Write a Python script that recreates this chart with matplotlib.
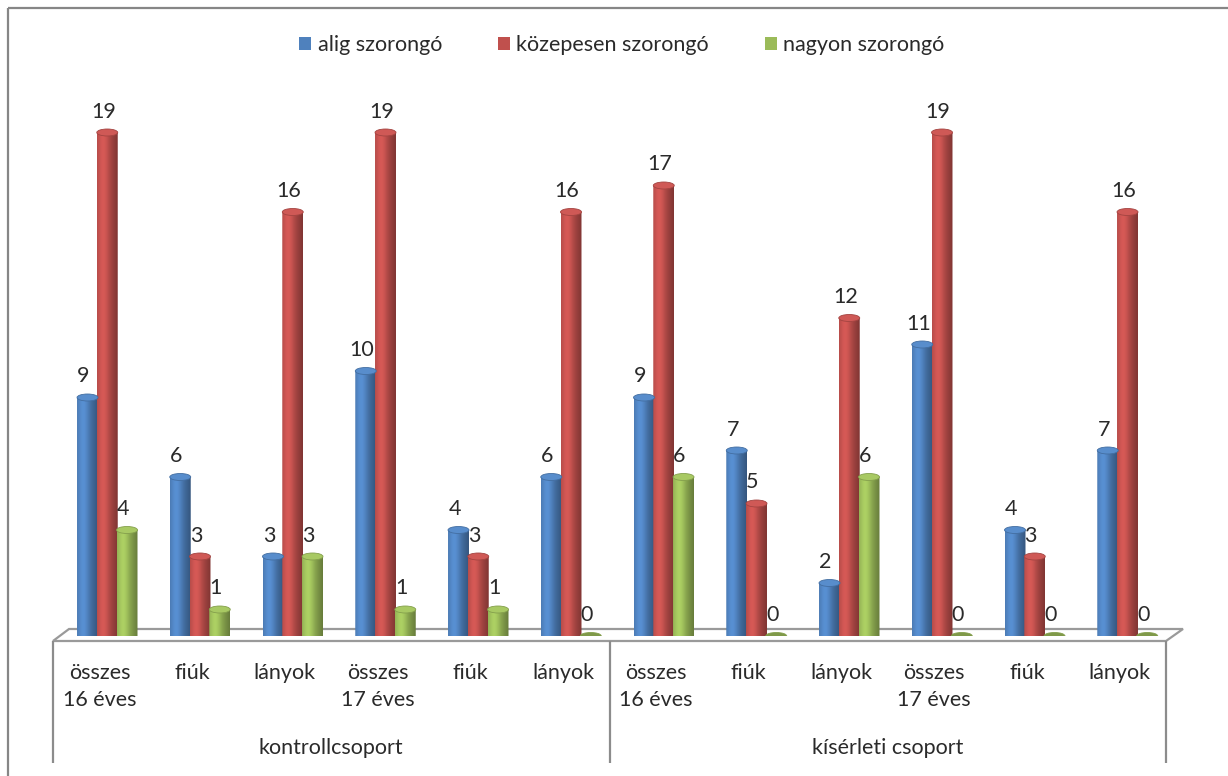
import numpy as np
import matplotlib
matplotlib.use("Agg")
import matplotlib.pyplot as plt
from matplotlib.patches import Ellipse, Polygon, Patch
from matplotlib.transforms import blended_transform_factory
from matplotlib.colors import to_rgb

# ---- data ----
categories = ["összes\n16 éves", "fiúk", "lányok", "összes\n17 éves", "fiúk", "lányok",
              "összes\n16 éves", "fiúk", "lányok", "összes\n17 éves", "fiúk", "lányok"]
groups = ["kontrollcsoport", "kísérleti csoport"]
group_sizes = [6, 6]
series_names = ["alig szorongó", "közepesen szorongó", "nagyon szorongó"]
alig = [9, 6, 3, 10, 4, 6, 9, 7, 2, 11, 4, 7]
kozepesen = [19, 3, 16, 19, 3, 16, 17, 5, 12, 19, 3, 16]
nagyon = [4, 1, 3, 1, 1, 0, 6, 0, 6, 0, 0, 0]
series_values = [alig, kozepesen, nagyon]
colors = ["#4F81BD", "#C0504D", "#9BBB59"]

plt.rcParams['font.family'] = ['Lato', 'DejaVu Sans']
FS = 15.5
TXT = "#2a2a2a"

W, H = 1228, 776
fig = plt.figure(figsize=(W / 100, H / 100), dpi=100)

# background / frame axes in pixel coords
bg = fig.add_axes([0, 0, 1, 1])
bg.set_xlim(0, W)
bg.set_ylim(H, 0)
bg.axis('off')

# plot layout (pixels)
x_left, x_right = 53, 1166
y_base = 636
px_per_unit = 26.5
ncat = len(categories)

ax = fig.add_axes([x_left / W, (H - y_base) / H, (x_right - x_left) / W, 20 * px_per_unit / H])
ax.set_xlim(0, ncat)
ax.set_ylim(0, 20)
ax.axis('off')
ax.patch.set_alpha(0)

# outer chart border
bg.plot([8, 8], [8, H], color="#868686", lw=1.6, solid_capstyle='butt')
bg.plot([8, W], [8, 8], color="#868686", lw=1.6, solid_capstyle='butt')

# floor
floor = Polygon([(x_left, 641), (x_right, 641), (x_right + 17, 629), (x_left + 16, 629)],
                closed=True, facecolor="white", edgecolor="#9A9A9A", lw=1.6, zorder=1)
bg.add_patch(floor)

# category axis box
boundaries = [0] + list(np.cumsum(group_sizes))
trans_x = blended_transform_factory(ax.transData, bg.transData)
for b in boundaries:
    bg.plot([b, b], [641, 763], color="#8C8C8C", lw=1.6, transform=trans_x, solid_capstyle='butt')

for i, lab in enumerate(categories):
    bg.text(i + 0.5, 663, lab, transform=trans_x, ha='center', va='top',
            fontsize=FS, color=TXT, linespacing=1.42)
start = 0
for g, n in zip(groups, group_sizes):
    bg.text(start + n / 2, 748, g, transform=trans_x, ha='center', va='center',
            fontsize=FS, color=TXT)
    start += n

# cylinders
offsets = [0.372, 0.585, 0.798]
bw = 0.226
eh = 7.0 / px_per_unit  # ellipse height in data units

prof_x = np.linspace(0, 1, 64)
shade = 0.86 + 0.26 * np.exp(-((prof_x - 0.3) / 0.3) ** 2) - 0.2 * prof_x ** 3

for s, (vals, col) in enumerate(zip(series_values, colors)):
    base = np.array(to_rgb(col))
    grad = np.clip(base[None, :] * shade[:, None], 0, 1)[None, :, :]
    for i, v in enumerate(vals):
        xc = i + offsets[s]
        x0, x1 = xc - bw / 2, xc + bw / 2
        t = np.linspace(np.pi, 2 * np.pi, 40)
        arc = [(xc + bw / 2 * np.cos(tt), eh / 2 * np.sin(tt)) for tt in t]
        pts = arc + [(x1, v), (x0, v)]
        body = Polygon(pts, closed=True, facecolor='none', edgecolor='none')
        ax.add_patch(body)
        im = ax.imshow(grad, extent=[x0, x1, -eh / 2, v], aspect='auto',
                       interpolation='bilinear', zorder=3)
        im.set_clip_path(body)
        if v > 0:
            topc = np.clip(base * 1.05 + 0.02, 0, 1)
        else:
            topc = np.clip(base * 0.82, 0, 1)
        ax.add_patch(Ellipse((xc, v), bw, eh, facecolor=topc,
                             edgecolor=np.clip(base * 0.85, 0, 1), lw=0.6, zorder=4))
        ax.annotate(str(v), xy=(xc, v), xytext=(-4, 21), textcoords='offset pixels',
                    ha='center', va='center', fontsize=FS, color=TXT, zorder=5)

ax.set_xlim(0, ncat)
ax.set_ylim(0, 20)

# legend
handles = [Patch(facecolor=c, edgecolor='none') for c in colors]
fig.legend(handles, series_names, loc='center', bbox_to_anchor=(622 / W, 1 - 45 / H),
           ncol=3, frameon=False, fontsize=FS, handlelength=0.55, handleheight=0.55,
           handletextpad=0.3, columnspacing=2.6, labelcolor=TXT)

fig.savefig("out.png", dpi=100)
